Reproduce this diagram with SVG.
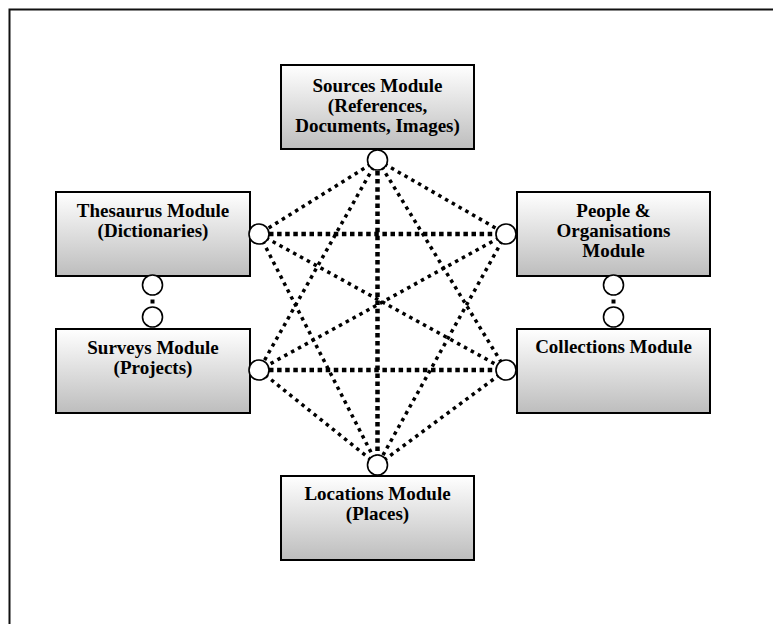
<svg xmlns="http://www.w3.org/2000/svg" width="773" height="624" viewBox="0 0 773 624">
  <defs>
    <linearGradient id="boxfill" x1="0" y1="0" x2="0" y2="1">
      <stop offset="0" stop-color="#ffffff"/>
      <stop offset="1" stop-color="#bdbdbd"/>
    </linearGradient>
    <style>
      .box { fill: url(#boxfill); stroke: #000; stroke-width: 2; }
      .lbl { font-family: "Liberation Serif", "Times New Roman", serif; font-weight: bold; font-size: 19px; fill: #000; text-anchor: middle; }
      .port { fill: #fff; stroke: #000; stroke-width: 1.6; }
      .dot { stroke: #000; stroke-width: 3.5; stroke-dasharray: 3.5 4.3; fill: none; }
      .dash { stroke: #000; stroke-width: 4.5; stroke-dasharray: 4.5 3.6; fill: none; }
      .frame { fill: none; stroke: #111; stroke-width: 2; }
    </style>
  </defs>
  <rect x="0" y="0" width="773" height="624" fill="#fff"/>
  <rect class="frame" x="9.5" y="9.5" width="820" height="700"/>

  <g id="connectors">
    <line class="dot" x1="377.5" y1="160" x2="259" y2="234"/>
    <line class="dot" x1="377.5" y1="160" x2="506" y2="234"/>
    <line class="dot" x1="377.5" y1="160" x2="259" y2="370"/>
    <line class="dot" x1="377.5" y1="160" x2="506" y2="370"/>
    <line class="dash" x1="377.5" y1="171" x2="377.5" y2="455"/>
    <line class="dash" x1="269" y1="234" x2="496" y2="234"/>
    <line class="dot" x1="259" y1="234" x2="506" y2="370"/>
    <line class="dot" x1="259" y1="234" x2="377.5" y2="465"/>
    <line class="dot" x1="506" y1="234" x2="259" y2="370"/>
    <line class="dot" x1="506" y1="234" x2="377.5" y2="465"/>
    <line class="dash" x1="269" y1="370" x2="496" y2="370"/>
    <line class="dot" x1="259" y1="370" x2="377.5" y2="465"/>
    <line class="dot" x1="506" y1="370" x2="377.5" y2="465"/>
    <line x1="152.5" y1="299.5" x2="152.5" y2="303.5" stroke="#000" stroke-width="4"/>
    <line x1="613.5" y1="299.5" x2="613.5" y2="303.5" stroke="#000" stroke-width="4"/>
  </g>

  <g id="sources">
    <rect class="box" x="281" y="65" width="193" height="84"/>
    <text class="lbl" x="377.5" y="92">Sources Module</text>
    <text class="lbl" x="377.5" y="112">(References,</text>
    <text class="lbl" x="377.5" y="132">Documents, Images)</text>
  </g>
  <g id="thesaurus">
    <rect class="box" x="56" y="192" width="194" height="84"/>
    <text class="lbl" x="153" y="217">Thesaurus Module</text>
    <text class="lbl" x="153" y="237">(Dictionaries)</text>
  </g>
  <g id="people">
    <rect class="box" x="517" y="192" width="193" height="84"/>
    <text class="lbl" x="613.5" y="216.5">People &amp;</text>
    <text class="lbl" x="613.5" y="236.5">Organisations</text>
    <text class="lbl" x="613.5" y="256.5">Module</text>
  </g>
  <g id="surveys">
    <rect class="box" x="56" y="329" width="194" height="84"/>
    <text class="lbl" x="153" y="353.5">Surveys Module</text>
    <text class="lbl" x="153" y="373.5">(Projects)</text>
  </g>
  <g id="collections">
    <rect class="box" x="517" y="329" width="193" height="84"/>
    <text class="lbl" x="613.5" y="353">Collections Module</text>
  </g>
  <g id="locations">
    <rect class="box" x="281" y="476" width="193" height="84"/>
    <text class="lbl" x="377.5" y="500">Locations Module</text>
    <text class="lbl" x="377.5" y="520">(Places)</text>
  </g>

  <g id="ports">
    <circle class="port" cx="377.5" cy="160" r="10"/>
    <circle class="port" cx="259" cy="234" r="10"/>
    <circle class="port" cx="506" cy="234" r="10"/>
    <circle class="port" cx="259" cy="370" r="10"/>
    <circle class="port" cx="506" cy="370" r="10"/>
    <circle class="port" cx="377.5" cy="465" r="10"/>
    <circle class="port" cx="152.5" cy="285" r="10"/>
    <circle class="port" cx="152.5" cy="317" r="10"/>
    <circle class="port" cx="613.5" cy="285" r="10"/>
    <circle class="port" cx="613.5" cy="317" r="10"/>
  </g>
</svg>
